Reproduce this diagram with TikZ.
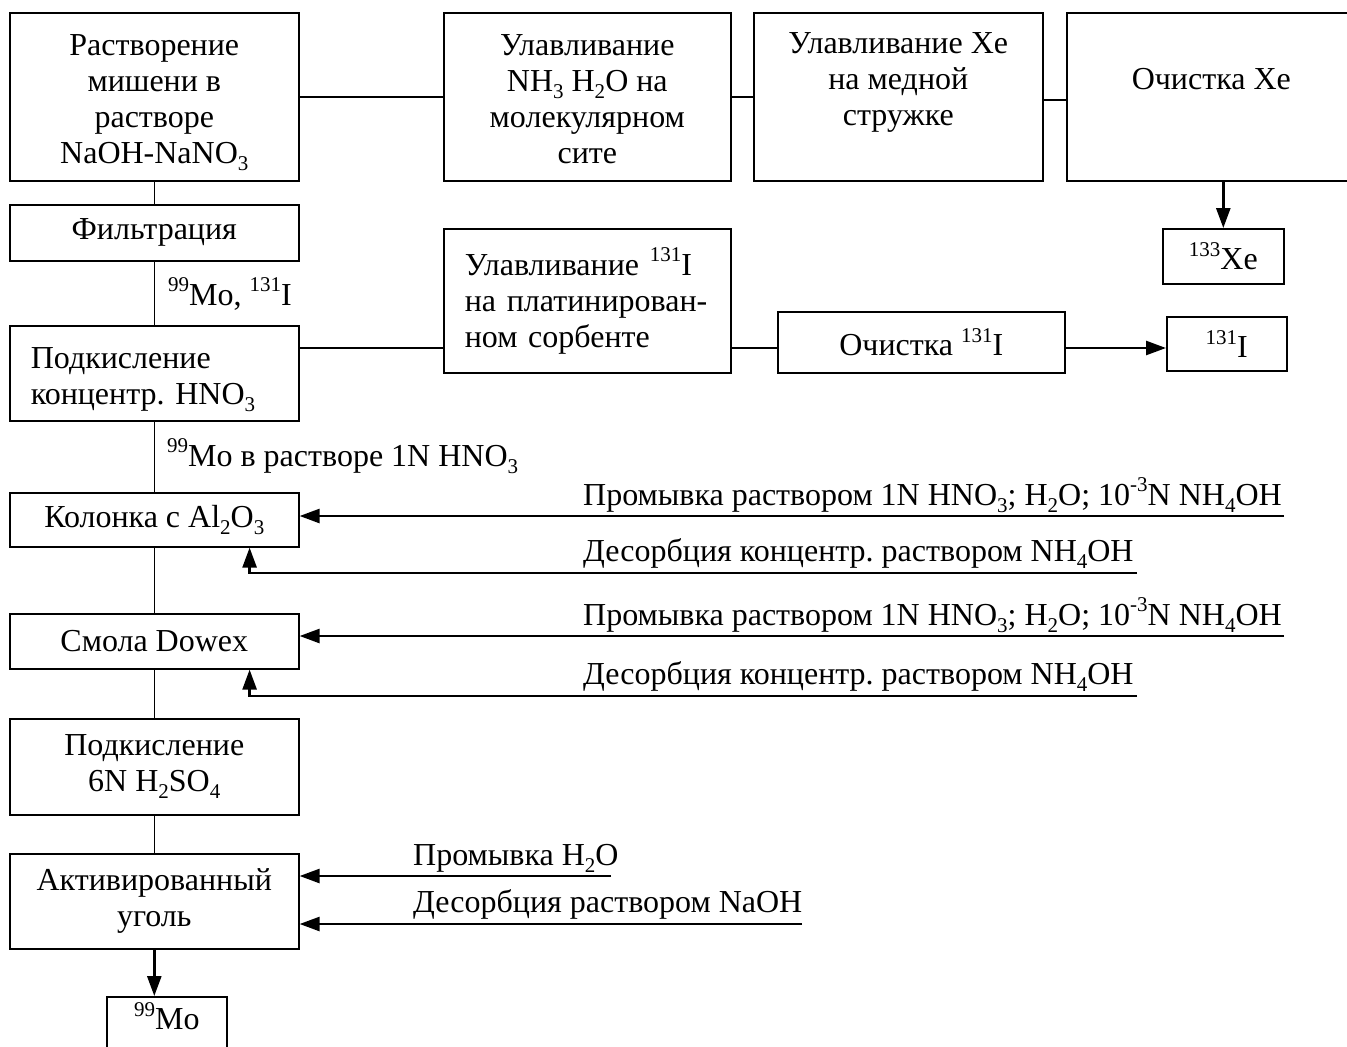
\documentclass[tikz,border=0pt]{standalone}
\usepackage{fontspec}
\setmainfont{Liberation Serif}
\usetikzlibrary{arrows.meta}
\frenchspacing
\newcommand\fs{\fontsize{32pt}{36pt}\selectfont}
\newcommand\sbs[1]{\raisebox{-0.22em}{\fontsize{21pt}{21pt}\selectfont #1}}
\newcommand\sps[1]{\raisebox{0.42em}{\fontsize{21pt}{21pt}\selectfont #1}}
\newcommand\tall{\rule{0pt}{33pt}}
\tikzset{
  box/.style={draw, line width=1.6pt, inner sep=0pt, align=center, font=\fs, anchor=north west},
  lbox/.style={box, align=left, inner xsep=21pt},
  conn/.style={line width=1.4pt},
  arr/.style={line width=2.6pt, -{Triangle[length=20pt,width=14pt]}},
  lbl/.style={inner sep=0pt, anchor=base west, font=\fs}
}
\begin{document}
\begin{tikzpicture}[x=1pt,y=-1pt]
\useasboundingbox (0,0) rectangle (1347,1047);
\clip (0,0) rectangle (1347,1047);
% top row
\node[box, minimum width=289pt, minimum height=168pt] (a) at (9,12) {\tall Растворение\\мишени в\\растворе\\NaOH-NaNO\sbs{3}};
\node[box, minimum width=287pt, minimum height=168pt] (b) at (443,12) {\strut Улавливание\\NH\sbs{3} H\sbs{2}O на\\молекулярном\\сите};
\node[box, minimum width=289pt, minimum height=168pt] (c) at (753,12) {\tall Улавливание Xe\\на медной\\стружке\\\strut};
\node[box, minimum width=289pt, minimum height=168pt] (d) at (1066,12) {\tall\\Очистка Xe\\\strut\\\strut};
\node[box, minimum width=121pt, minimum height=55pt] (xe) at (1162,228) {\sps{133}Xe};
% left column
\node[box, minimum width=289pt, minimum height=56pt] (f) at (9,204) {Фильтрация};
\node[lbox, text width=247pt, minimum height=95pt] (p1) at (9,325) {\tall Подкисление\\концентр. HNO\sbs{3}};
\node[lbox, text width=245pt, minimum height=144pt] (u) at (443,228) {Улавливание \sps{131}I\\на платинирован-\\ном сорбенте};
\node[box, minimum width=287pt, minimum height=61pt] (o) at (777,311) {Очистка \sps{131}I};
\node[box, minimum width=120pt, minimum height=54pt] (i) at (1166,316) {\sps{131}I};
\node[box, minimum width=289pt, minimum height=54pt] (k) at (9,492) {Колонка с Al\sbs{2}O\sbs{3}};
\node[box, minimum width=289pt, minimum height=55pt] (s) at (9,613) {Смола Dowex};
\node[box, minimum width=289pt, minimum height=96pt] (p2) at (9,718) {Подкисление\\6N H\sbs{2}SO\sbs{4}};
\node[box, minimum width=289pt, minimum height=95pt] (ac) at (9,853) {Активированный\\уголь};
\node[box, minimum width=120pt, minimum height=80pt] (mo) at (106,996) {\tall\sps{99}Mo\\\strut};
% labels
\node[lbl] (l1) at (168,305) {\sps{99}Mo, \sps{131}I};
\node[lbl] (l2) at (167,466) {\sps{99}Mo в растворе 1N HNO\sbs{3}};
\node[lbl] (t1) at (583,505) {Промывка раствором 1N HNO\sbs{3}; H\sbs{2}O; 10\sps{-3}N NH\sbs{4}OH};
\node[lbl] (t2) at (583,561) {Десорбция концентр. раствором NH\sbs{4}OH};
\node[lbl] (t3) at (583,625) {Промывка раствором 1N HNO\sbs{3}; H\sbs{2}O; 10\sps{-3}N NH\sbs{4}OH};
\node[lbl] (t4) at (583,684) {Десорбция концентр. раствором NH\sbs{4}OH};
\node[lbl] (t5) at (413,865) {Промывка H\sbs{2}O};
\node[lbl] (t6) at (413,912) {Десорбция раствором NaOH};
% free ends
\coordinate (w1) at (1284,516);
\coordinate (d1) at (1137,573);
\coordinate (w2) at (1284,636);
\coordinate (d2) at (1137,696);
\coordinate (w3) at (611,876);
\coordinate (d3) at (802,924);
\coordinate (h1) at (0,348);
% connectors
\draw[conn] (a.east) -- (b.west);
\draw[conn] (b.east) -- (c.west);
\draw[conn] ([yshift=-3pt]c.east) -- ([yshift=-3pt]d.west);
\draw[arr] (xe.north |- d.south) -- (xe.north);
\draw[conn] (a.south) -- (f.north);
\draw[conn] (f.south) -- (p1.north);
\draw[conn] (p1.east |- h1) -- (u.west |- h1);
\draw[conn] (u.east |- h1) -- (o.west |- h1);
\draw[arr] (o.east |- h1) -- (i.west |- h1);
\draw[conn] (p1.south) -- (k.north);
\draw[conn] (k.south) -- (s.north);
\draw[conn] (s.south) -- (p2.north);
\draw[conn] (p2.south) -- (ac.north);
\draw[arr] (ac.south) -- (ac.south |- mo.north);
\draw[arr] (w1) -- (w1 -| k.east);
\draw[arr] (d1) -| ([xshift=-50pt]k.south east);
\draw[arr] (w2) -- (w2 -| s.east);
\draw[arr] (d2) -| ([xshift=-50pt]s.south east);
\draw[arr] (w3) -- (w3 -| ac.east);
\draw[arr] (d3) -- (d3 -| ac.east);
\end{tikzpicture}
\end{document}
